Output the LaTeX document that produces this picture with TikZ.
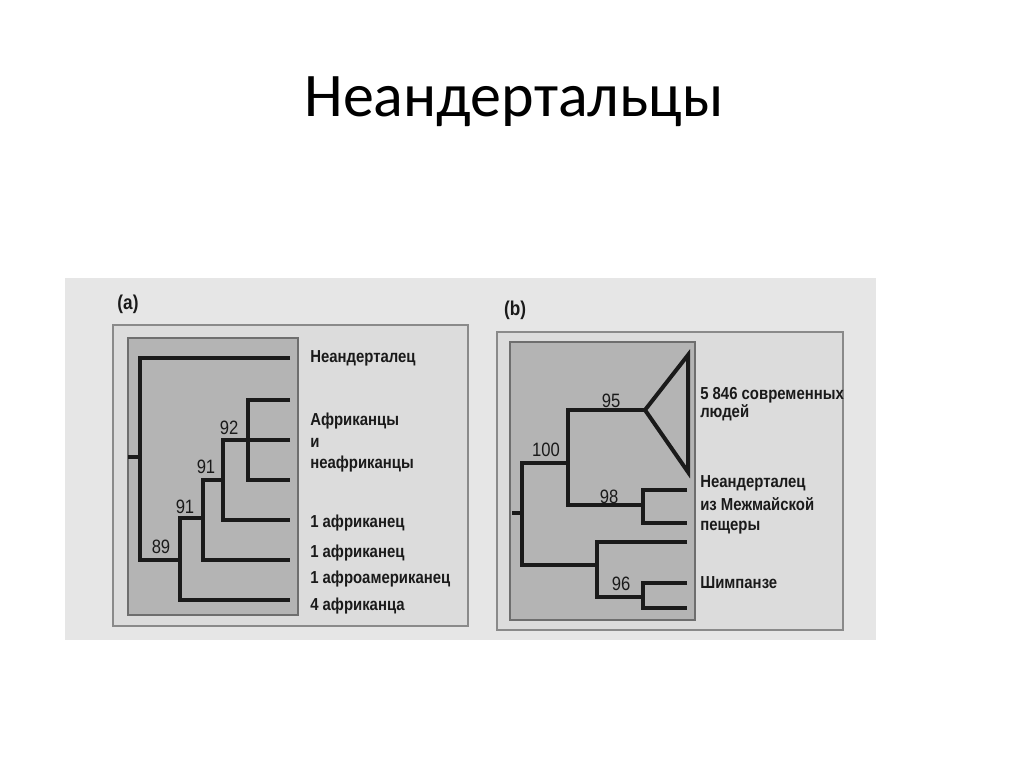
\documentclass[tikz,border=0pt]{standalone}
\usepackage{fontspec}
\setmainfont{Carlito}
\newfontfamily\labfont[FakeStretch=0.86]{Liberation Sans}
\definecolor{scan}{HTML}{E6E6E6}
\definecolor{panel}{HTML}{DCDCDC}
\definecolor{inner}{HTML}{B4B4B4}
\definecolor{frame}{HTML}{8A8A8A}
\definecolor{ink}{HTML}{1A1A1A}
\tikzset{
  branch/.style={line width=3pt,color=ink,line join=miter},
  outerbox/.style={fill=panel,draw=frame,line width=1pt},
  innerbox/.style={fill=inner,draw=frame!80!black,line width=1pt},
  tiplab/.style={anchor=base west,inner sep=0pt,text=ink,font=\labfont\bfseries\fontsize{13}{15}\selectfont},
  support/.style={inner sep=0pt,text=ink,font=\labfont\fontsize{14.5}{16}\selectfont},
  panlab/.style={inner sep=0pt,text=ink,font=\labfont\bfseries\fontsize{15}{17}\selectfont}
}

\begin{document}
\begin{tikzpicture}[x=0.75pt,y=-0.75pt]
  \useasboundingbox (0,0) rectangle (1024,767);
  \node[anchor=base,font=\fontsize{46.5}{52}\selectfont] (title) at (514,116) {Неандертальцы};
  % scanned page
  \fill[scan] (65,278) rectangle (876,640);

  % ---- panel (a)
  \node[panlab] (pa) at (128,304) {(a)};
  \draw[outerbox] (113,325) rectangle (468,626);
  \draw[innerbox] (128,338) rectangle (298,615);
  \coordinate (a0) at (128,457);
  \coordinate (A1) at (140,457);
  \coordinate (A89) at (180,560);
  \coordinate (A91b) at (203,518);
  \coordinate (A91a) at (223,480);
  \coordinate (A92) at (248,440);
  \coordinate (tNea) at (290,358);
  \coordinate (tAf1) at (290,400);
  \coordinate (tAf2) at (290,440);
  \coordinate (tAf3) at (290,480);
  \coordinate (t1a) at (290,520);
  \coordinate (t1b) at (290,560);
  \coordinate (t4a) at (290,600);
  \draw[branch] (a0) -- (A1);
  \draw[branch] (tNea) -| (A1) |- (A89);
  \draw[branch] (A91b) -| (A89) |- (t4a);
  \draw[branch] (A91a) -| (A91b) |- (t1b);
  \draw[branch] (tAf2) -| (A91a) |- (t1a);
  \draw[branch] (tAf1) -| (A92) |- (tAf3);
  \node[support] (s92) at (229,428) {92};
  \node[support] (s91a) at (206,467) {91};
  \node[support] (s91b) at (185,507) {91};
  \node[support] (s89) at (161,547) {89};
  \node[tiplab] (lNea) at (310,362) {Неандерталец};
  \node[tiplab] (lAf1) at (310,425) {Африканцы};
  \node[tiplab] (lAf2) at (310,447) {и};
  \node[tiplab] (lAf3) at (310,468) {неафриканцы};
  \node[tiplab] (l1a) at (310,527) {1 африканец};
  \node[tiplab] (l1b) at (310,557) {1 африканец};
  \node[tiplab] (l1c) at (310,583) {1 афроамериканец};
  \node[tiplab] (l4a) at (310,610) {4 африканца};

  % ---- panel (b)
  \node[panlab] (pb) at (515,310) {(b)};
  \draw[outerbox] (497,332) rectangle (843,630);
  \draw[innerbox] (510,342) rectangle (695,620);
  \coordinate (b0) at (512,513);
  \coordinate (B1) at (522,513);
  \coordinate (B100) at (568,463);
  \coordinate (B98) at (643,505);
  \coordinate (Bc) at (597,565);
  \coordinate (B96) at (643,597);
  \coordinate (apex) at (645,410);
  \coordinate (triT) at (688,355);
  \coordinate (triB) at (688,472);
  \coordinate (tb1) at (687,490);
  \coordinate (tb2) at (687,523);
  \coordinate (tb3) at (687,542);
  \coordinate (tb4) at (687,583);
  \coordinate (tb5) at (687,608);
  \draw[branch] (b0) -- (B1);
  \draw[branch] (B100) -| (B1) |- (Bc);
  \draw[branch] (apex) -| (B100) |- (B98);
  \draw[branch] (tb1) -| (B98) |- (tb2);
  \draw[branch] (tb3) -| (Bc) |- (B96);
  \draw[branch] (tb4) -| (B96) |- (tb5);
  \draw[branch] (apex) -- (triT) -- (triB) -- cycle;
  \node[support] (s100) at (546,450) {100};
  \node[support] (s95) at (611,401) {95};
  \node[support] (s98) at (609,497) {98};
  \node[support] (s96) at (621,584) {96};
  \node[tiplab] (lHum1) at (700,399) {5 846 современных};
  \node[tiplab] (lHum2) at (700,417) {людей};
  \node[tiplab] (lMez1) at (700,487) {Неандерталец};
  \node[tiplab] (lMez2) at (700,510) {из Межмайской};
  \node[tiplab] (lMez3) at (700,530) {пещеры};
  \node[tiplab] (lChi) at (700,588) {Шимпанзе};
\end{tikzpicture}
\end{document}
